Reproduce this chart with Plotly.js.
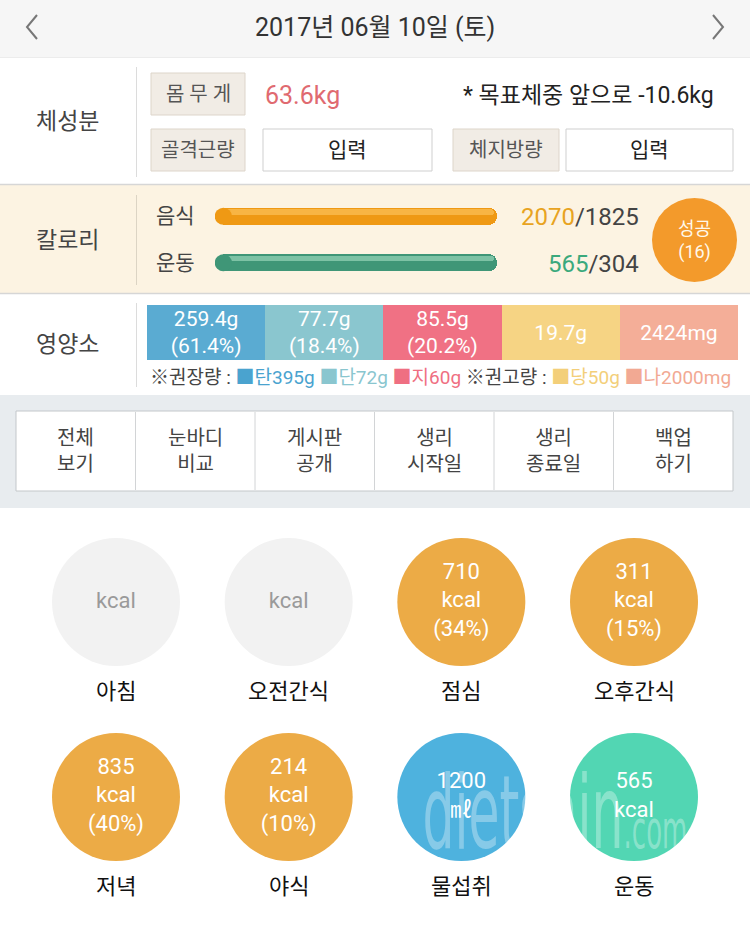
<!DOCTYPE html>
<html><head><meta charset="utf-8">
<script src="https://cdn.plot.ly/plotly-3.0.1.min.js"></script>
<style>html,body{margin:0;padding:0;background:#fff;}#chart{width:750px;height:925px;}</style>
</head><body><div id="chart"></div>
<script>
// ---------------- data ----------------
const dateLabel = '2017년 06월 10일 (토)';
const weightLabel = '몸 무 게';
const weightKg = 63.6;
const goalRemainKg = -10.6;
const bodyInputs = ['골격근량', '체지방량'];
const inputText = '입력';

const calorieRows = ['음식', '운동'];
const calorieActual = [2070, 565];
const calorieGoal = [1825, 304];
const successDays = 16;

const nutrientKeys = ['탄수화물', '단백질', '지방', '당', '나트륨'];
const nutrientAmounts = [259.4, 77.7, 85.5, 19.7, 2424];
const nutrientUnits = ['g', 'g', 'g', 'g', 'mg'];
const nutrientPct = [61.4, 18.4, 20.2, null, null];
const nutrientShort = ['탄', '단', '지', '당', '나'];
const nutrientRecommended = [395, 72, 60, 50, 2000];

const menuButtons = ['전체<br>보기', '눈바디<br>비교', '게시판<br>공개', '생리<br>시작일', '생리<br>종료일', '백업<br>하기'];

const mealNames = ['아침', '오전간식', '점심', '오후간식', '저녁', '야식', '물섭취', '운동'];
const mealValues = [null, null, 710, 311, 835, 214, 1200, 565];
const mealUnits = ['kcal', 'kcal', 'kcal', 'kcal', 'kcal', 'kcal', '㎖', 'kcal'];
const mealPct = [null, null, 34, 15, 40, 10, null, null];
const mealKinds = ['meal', 'meal', 'meal', 'meal', 'meal', 'meal', 'water', 'exercise'];

// ---------------- styling ----------------
const W = 750, H = 925;
const px = x => x / W, py = y => 1 - y / H;
const FONT = 'Roboto, "Noto Sans CJK KR", sans-serif';
const nutrientColors = ['#5aabd2', '#8ac6cf', '#f07184', '#f6d484', '#f4ae98'];
const nutrientTextColors = ['#4aa3cf', '#8ac6cf', '#ef6f82', '#f3cf7a', '#f2a993'];
const kindColors = {meal: '#ecab46', water: '#4eb2de', exercise: '#52d6b3', empty: '#f2f2f2'};

const shapes = [];
const annotations = [];
function rect(x0, y0, x1, y1, fill, line, lw, layer) {
  shapes.push({type: 'rect', xref: 'paper', yref: 'paper', x0: px(x0), x1: px(x1), y0: py(y1), y1: py(y0),
    fillcolor: fill, line: {color: line || 'rgba(0,0,0,0)', width: line ? (lw || 1) : 0}, layer: layer || 'below'});
}
function hline(x0, x1, y, color, w) {
  shapes.push({type: 'line', xref: 'paper', yref: 'paper', x0: px(x0), x1: px(x1), y0: py(y), y1: py(y), line: {color, width: w || 1}, layer: 'below'});
}
function vline(x, y0, y1, color, w) {
  shapes.push({type: 'line', xref: 'paper', yref: 'paper', x0: px(x), x1: px(x), y0: py(y0), y1: py(y1), line: {color, width: w || 1}, layer: 'below'});
}
function ann(x, y, text, size, color, anchor, extra) {
  annotations.push(Object.assign({xref: 'paper', yref: 'paper', x: px(x), y: py(y), text, showarrow: false,
    xanchor: anchor || 'center', yanchor: 'middle', font: {family: FONT, size, color}}, extra || {}));
}

// header
rect(0, 0, 750, 57, '#f6f6f6');
hline(0, 750, 57.5, '#ececec');
ann(375, 27, dateLabel, 25, '#333');
shapes.push({type: 'path', xref: 'paper', yref: 'paper', path: `M ${px(37)} ${py(15)} L ${px(27)} ${py(27)} L ${px(37)} ${py(39)}`, line: {color: '#777', width: 2}});
shapes.push({type: 'path', xref: 'paper', yref: 'paper', path: `M ${px(713)} ${py(15)} L ${px(723)} ${py(27)} L ${px(713)} ${py(39)}`, line: {color: '#777', width: 2}});

// section 체성분
ann(67, 122, '체성분', 23, '#444');
vline(136.5, 67, 177, '#dcdcdc');
rect(151, 73, 245, 115, '#f1ece5', '#ddd5ca');
ann(198, 94, weightLabel, 20, '#555');
ann(263, 95, weightKg.toFixed(1) + 'kg', 25, '#e06a70', 'left');
ann(716, 95, '* 목표체중 앞으로 ' + goalRemainKg.toFixed(1) + 'kg', 23, '#222', 'right');
rect(151, 129, 245, 171, '#f1ece5', '#ddd5ca');
ann(198, 150, bodyInputs[0], 20, '#555');
rect(263, 129, 432, 171, '#ffffff', '#cfcfcf');
ann(347.5, 150, inputText, 21, '#222');
rect(453, 129, 559, 171, '#f1ece5', '#ddd5ca');
ann(506, 150, bodyInputs[1], 20, '#555');
rect(566, 129, 733, 171, '#ffffff', '#cfcfcf');
ann(649.5, 150, inputText, 21, '#222');

// section 칼로리
rect(0, 184, 750, 293, '#fcf3e2');
hline(0, 750, 184.5, '#d6d6d6', 1.5);
hline(0, 750, 293.5, '#d6d6d6', 1.5);
ann(67, 240, '칼로리', 23, '#444');
vline(136.5, 195, 285, '#dcd4c4');
ann(175, 216, calorieRows[0], 21, '#444');
ann(175, 263, calorieRows[1], 21, '#444');
ann(641, 217, `<span style="color:#e8a321">${calorieActual[0]}</span>/${calorieGoal[0]}`, 24, '#444', 'right');
ann(641, 264, `<span style="color:#3aa97c">${calorieActual[1]}</span>/${calorieGoal[1]}`, 24, '#444', 'right');
shapes.push({type: 'circle', xref: 'paper', yref: 'paper', x0: px(652), x1: px(737), y0: py(282), y1: py(198), fillcolor: '#f39a2b', line: {width: 0}, layer: 'above'});
ann(694.5, 240, `성공<br>(${successDays})`, 18, '#fff8ea');

// section 영양소
ann(67, 345, '영양소', 23, '#444');
vline(136.5, 303, 387, '#dcdcdc');
const legendParts = ['<span style="color:#444">※권장량 : </span>'];
for (let i = 0; i < 5; i++) {
  if (i === 3) legendParts.push('<span style="color:#444"> ※권고량 : </span>');
  legendParts.push(`<span style="color:${nutrientTextColors[i]}">■${nutrientShort[i]}${nutrientRecommended[i]}${nutrientUnits[i]}</span>` + (i === 2 || i === 4 ? '' : ' '));
}
ann(148, 377, legendParts.join(''), 19, '#444', 'left');

// section buttons
rect(0, 395, 750, 508, '#e8ecef');
rect(16, 411, 733, 491, '#ffffff', '#c3c7ca');
const btnW = (733 - 16) / menuButtons.length;
for (let i = 0; i < menuButtons.length; i++) {
  if (i > 0) vline(16 + btnW * i, 412, 490, '#d2d4d6');
  ann(16 + btnW * (i + 0.5), 451, menuButtons[i], 20, '#444');
}

// ---------------- traces ----------------
const traces = [];
// calorie bars (capped at 100% of goal)
const calFrac = calorieActual.map((v, i) => Math.min(v / calorieGoal[i], 1));
const calMain = ['#ef9914', '#3f9677'];
const calHi = ['#f9b94a', '#84c7aa'];
traces.push({type: 'bar', orientation: 'h', x: calFrac, y: calorieRows, xaxis: 'x', yaxis: 'y',
  width: 0.37, marker: {color: calMain, cornerradius: '50%', line: {width: 0}}, hoverinfo: 'skip'});
traces.push({type: 'scatter', mode: 'markers', x: calorieRows.map(() => 0), y: calorieRows, xaxis: 'x', yaxis: 'y',
  marker: {size: 17.2, color: calMain, line: {width: 0}}, hoverinfo: 'skip'});
traces.push({type: 'bar', orientation: 'h', x: calFrac.map(f => f - 0.012), base: 0.0, y: calorieRows, xaxis: 'x', yaxis: 'y',
  width: 0.12, offset: -0.15, marker: {color: calHi, cornerradius: '50%', line: {width: 0}}, opacity: 0.9, hoverinfo: 'skip'});

// nutrient cells
traces.push({type: 'bar', x: nutrientKeys, y: nutrientKeys.map(() => 1), xaxis: 'x2', yaxis: 'y2', width: 1,
  marker: {color: nutrientColors, line: {width: 0}},
  text: nutrientAmounts.map((a, i) => a + nutrientUnits[i] + (nutrientPct[i] != null ? `<br>(${nutrientPct[i].toFixed(1)}%)` : '')),
  textposition: 'inside', insidetextanchor: 'middle', constraintext: 'none',
  textfont: {family: FONT, size: 21, color: '#ffffff'}, hoverinfo: 'skip'});

// meal circles
const cols = mealNames.map((_, i) => i % 4);
const rows = mealNames.map((_, i) => Math.floor(i / 4));
const circleColors = mealValues.map((v, i) => v == null ? kindColors.empty : kindColors[mealKinds[i]]);
const circleText = mealValues.map((v, i) => {
  if (v == null) return mealUnits[i];
  return v + '<br>' + mealUnits[i] + (mealPct[i] != null ? `<br>(${mealPct[i]}%)` : '');
});
traces.push({type: 'scatter', mode: 'markers+text', x: cols, y: rows, xaxis: 'x3', yaxis: 'y3',
  marker: {size: 128, color: circleColors, line: {width: 0}, opacity: 1},
  text: circleText, textposition: 'middle center',
  textfont: {family: FONT, size: 22, color: mealValues.map(v => v == null ? '#9a9a9a' : '#ffffff')},
  hoverinfo: 'skip', cliponaxis: false});
mealNames.forEach((n, i) => {
  annotations.push({xref: 'x3', yref: 'y3', x: cols[i], y: rows[i], yshift: -89, text: n, showarrow: false,
    xanchor: 'center', yanchor: 'middle', font: {family: FONT, size: 22, color: '#111'}});
});
// watermark
annotations.push({xref: 'paper', yref: 'paper', x: px(555), y: py(812), text: 'dietshin<span style="font-size:34px">.com</span>', showarrow: false,
  xanchor: 'center', yanchor: 'middle', font: {family: '"DejaVu Sans Condensed", sans-serif', size: 66, color: 'rgba(255,255,255,0.32)'}});

const hidden = {visible: false, fixedrange: true, showgrid: false, zeroline: false};
const layout = {
  width: W, height: H, margin: {l: 0, r: 0, t: 0, b: 0, pad: 0},
  paper_bgcolor: '#ffffff', plot_bgcolor: 'rgba(0,0,0,0)', showlegend: false, barmode: 'overlay', bargap: 0,
  font: {family: FONT},
  xaxis: Object.assign({domain: [px(215), px(497)], range: [-0.0305, 1], anchor: 'y'}, hidden),
  yaxis: Object.assign({domain: [py(286), py(193)], type: 'category', autorange: 'reversed', anchor: 'x'}, hidden),
  xaxis2: Object.assign({domain: [px(147), px(738)], type: 'category', range: [-0.5, 4.5], anchor: 'y2'}, hidden),
  yaxis2: Object.assign({domain: [py(360), py(305)], range: [0, 1], anchor: 'x2'}, hidden),
  xaxis3: Object.assign({domain: [0, 1], range: [-116 / 172.67, (750 - 116) / 172.67], anchor: 'y3'}, hidden),
  yaxis3: Object.assign({domain: [0, py(508)], range: [(925 - 602) / 195, (508 - 602) / 195], anchor: 'x3'}, hidden),
  shapes, annotations
};
Plotly.newPlot('chart', traces, layout, {staticPlot: true, displayModeBar: false, responsive: false}).then(gd => {
  // stretch the watermark vertically like the tall condensed original
  const groups = gd.querySelectorAll('.annotation');
  const wm = groups[groups.length - 1];
  if (wm) {
    const t = wm.querySelector('text');
    if (t) { t.style.transformBox = 'fill-box'; t.style.transformOrigin = 'center'; t.style.transform = 'scale(0.85, 1.55)'; }
  }
});
</script></body></html>
